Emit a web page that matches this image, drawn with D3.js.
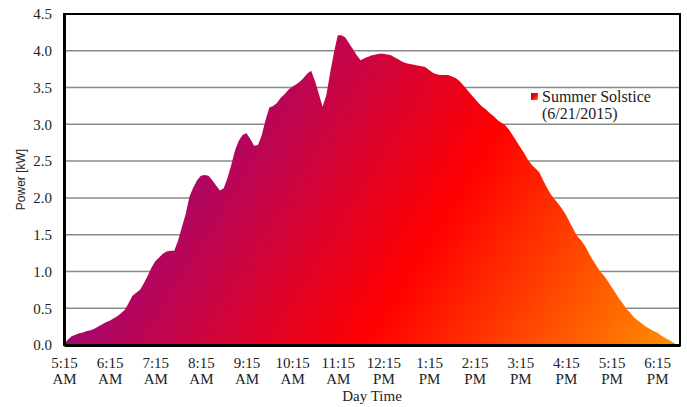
<!DOCTYPE html>
<html>
<head>
<meta charset="utf-8">
<script src="https://cdn.jsdelivr.net/npm/d3@7"></script>
<style>
  html, body { margin: 0; padding: 0; background: #fff; }
  svg { display: block; }
</style>
</head>
<body>
<svg id="chart" width="687" height="407"></svg>
<script>
// ---------------- DATA ----------------
const seriesName = ["Summer Solstice", "(6/21/2015)"];
const startTime = "05:15";      // first sample
const stepMinutes = 5;          // sampling interval
// Power [kW], one value per 5-minute sample from 5:15 AM to 6:45 PM
const powerKW = [
  0.01, 0.07, 0.12, 0.14, 0.16, 0.17, 0.19, 0.20, 0.22, 0.25,
  0.28, 0.31, 0.33, 0.36, 0.39, 0.43, 0.48, 0.57, 0.67, 0.71,
  0.75, 0.84, 0.94, 1.05, 1.14, 1.19, 1.24, 1.27, 1.28, 1.28,
  1.42, 1.60, 1.78, 2.02, 2.14, 2.24, 2.30, 2.31, 2.30, 2.24,
  2.17, 2.10, 2.13, 2.27, 2.45, 2.65, 2.78, 2.86, 2.88, 2.80,
  2.71, 2.72, 2.85, 3.06, 3.23, 3.25, 3.29, 3.36, 3.41, 3.47,
  3.51, 3.54, 3.58, 3.63, 3.69, 3.73, 3.59, 3.42, 3.24, 3.40,
  3.70, 3.98, 4.21, 4.21, 4.18, 4.10, 4.02, 3.94, 3.87, 3.90,
  3.92, 3.94, 3.95, 3.96, 3.96, 3.95, 3.94, 3.91, 3.88, 3.85,
  3.83, 3.82, 3.81, 3.80, 3.79, 3.78, 3.74, 3.70, 3.68, 3.67,
  3.67, 3.67, 3.65, 3.63, 3.59, 3.53, 3.47, 3.41, 3.35, 3.29,
  3.24, 3.20, 3.15, 3.11, 3.06, 3.02, 2.99, 2.93, 2.85, 2.77,
  2.69, 2.61, 2.52, 2.45, 2.40, 2.35, 2.24, 2.14, 2.05, 1.98,
  1.92, 1.85, 1.77, 1.67, 1.57, 1.48, 1.42, 1.35, 1.25, 1.16,
  1.08, 1.00, 0.94, 0.87, 0.79, 0.71, 0.63, 0.56, 0.49, 0.43,
  0.37, 0.33, 0.29, 0.25, 0.22, 0.19, 0.17, 0.13, 0.10, 0.07,
  0.04, 0.01, 0.00
];
const xTickLabels = [
  "5:15 AM", "6:15 AM", "7:15 AM", "8:15 AM", "9:15 AM", "10:15 AM", "11:15 AM",
  "12:15 PM", "1:15 PM", "2:15 PM", "3:15 PM", "4:15 PM", "5:15 PM", "6:15 PM"
];
const yTicks = [0, 0.5, 1.0, 1.5, 2.0, 2.5, 3.0, 3.5, 4.0, 4.5];
const yTitle = "Power [kW]";
const xTitle = "Day Time";

// ---------------- LAYOUT ----------------
const W = 687, H = 407;
const m = { left: 64, top: 14, right: 7, bottom: 62 };
const pw = W - m.left - m.right;   // 616
const ph = H - m.top - m.bottom;   // 331

const parseHM = d3.timeParse("%H:%M");
const parseTick = d3.timeParse("%I:%M %p");
const t0 = parseHM(startTime);
const data = powerKW.map((v, i) => ({ t: d3.timeMinute.offset(t0, i * stepMinutes), v }));

const x = d3.scaleTime()
  .domain([data[0].t, data[data.length - 1].t])
  .range([m.left, m.left + pw]);
const y = d3.scaleLinear().domain([0, 4.5]).range([m.top + ph, m.top]);

const svg = d3.select("#chart");

// gradient (diagonal purple -> red -> orange)
const defs = svg.append("defs");
const g1 = defs.append("linearGradient")
  .attr("id", "areaGrad")
  .attr("gradientUnits", "userSpaceOnUse")
  .attr("x1", m.left + 0.171 * pw).attr("y1", m.top + 0.278 * ph)
  .attr("x2", m.left + 0.942 * pw).attr("y2", m.top + 1.172 * ph);
g1.append("stop").attr("offset", 0).attr("stop-color", "#98087f");
g1.append("stop").attr("offset", 0.52).attr("stop-color", "#ff0000");
g1.append("stop").attr("offset", 1).attr("stop-color", "#ff9000");

const g2 = defs.append("linearGradient")
  .attr("id", "legGrad")
  .attr("x1", 0).attr("y1", 0).attr("x2", 1).attr("y2", 1);
g2.append("stop").attr("offset", 0).attr("stop-color", "#98087f");
g2.append("stop").attr("offset", 0.5).attr("stop-color", "#ff0000");
g2.append("stop").attr("offset", 1).attr("stop-color", "#ff9000");

// gridlines
svg.append("g")
  .selectAll("line")
  .data(yTicks)
  .join("line")
  .attr("x1", m.left).attr("x2", m.left + pw)
  .attr("y1", d => y(d)).attr("y2", d => y(d))
  .attr("stroke", "#8a8a8a")
  .attr("stroke-width", 1.5);

// area
const area = d3.area()
  .x(d => x(d.t))
  .y0(y(0))
  .y1(d => y(d.v));
svg.append("path")
  .datum(data)
  .attr("d", area)
  .attr("fill", "url(#areaGrad)");

// plot border
svg.append("rect")
  .attr("x", m.left).attr("y", m.top)
  .attr("width", pw).attr("height", ph)
  .attr("fill", "none")
  .attr("stroke", "#000")
  .attr("stroke-width", 2);

// y axis
const yAxis = d3.axisLeft(y)
  .tickValues(yTicks)
  .tickFormat(d3.format(".1f"))
  .tickSize(0)
  .tickPadding(12);
const gy = svg.append("g")
  .attr("transform", `translate(${m.left},0)`)
  .call(yAxis);
gy.select(".domain").attr("stroke", "#000").attr("stroke-width", 3);
gy.selectAll("text")
  .attr("font-family", "'Liberation Serif', 'Times New Roman', serif")
  .attr("font-size", 15)
  .attr("fill", "#222");

// x axis
const xAxis = d3.axisBottom(x)
  .tickValues(xTickLabels.map(s => {
    const p = parseTick(s);
    return d3.timeMinute.offset(t0, (p - t0) / 60000);
  }))
  .tickSize(0)
  .tickFormat("");
const gx = svg.append("g")
  .attr("transform", `translate(0,${m.top + ph})`)
  .call(xAxis);
gx.select(".domain").attr("stroke", "#000").attr("stroke-width", 3);
gx.selectAll(".tick text").remove();
gx.selectAll(".tick")
  .each(function (d, i) {
    const parts = xTickLabels[i].split(" ");
    const t = d3.select(this).append("text")
      .attr("text-anchor", "middle")
      .attr("font-family", "'Liberation Serif', 'Times New Roman', serif")
      .attr("font-size", 15)
      .attr("fill", "#222");
    t.append("tspan").attr("x", 0).attr("y", 23).text(parts[0]);
    t.append("tspan").attr("x", 0).attr("y", 39).text(parts[1]);
  });

// axis titles
svg.append("text")
  .attr("x", m.left + pw / 2)
  .attr("y", 401)
  .attr("text-anchor", "middle")
  .attr("font-family", "'Liberation Serif', 'Times New Roman', serif")
  .attr("font-size", 15)
  .attr("fill", "#222")
  .text(xTitle);

svg.append("text")
  .attr("transform", `translate(25,${m.top + ph / 2}) rotate(-90)`)
  .attr("text-anchor", "middle")
  .attr("font-family", "'Liberation Sans', Arial, sans-serif")
  .attr("font-size", 12)
  .attr("fill", "#222")
  .text(yTitle);

// legend
const leg = svg.append("g").attr("transform", "translate(531,93)");
leg.append("rect")
  .attr("x", 0).attr("y", 0)
  .attr("width", 7).attr("height", 7)
  .attr("fill", "url(#legGrad)");
leg.selectAll("text")
  .data(seriesName)
  .join("text")
  .attr("x", 11)
  .attr("y", (d, i) => 8.5 + i * 17)
  .attr("font-family", "'Liberation Serif', 'Times New Roman', serif")
  .attr("font-size", 16)
  .attr("fill", "#222")
  .text(d => d);
</script>
</body>
</html>
